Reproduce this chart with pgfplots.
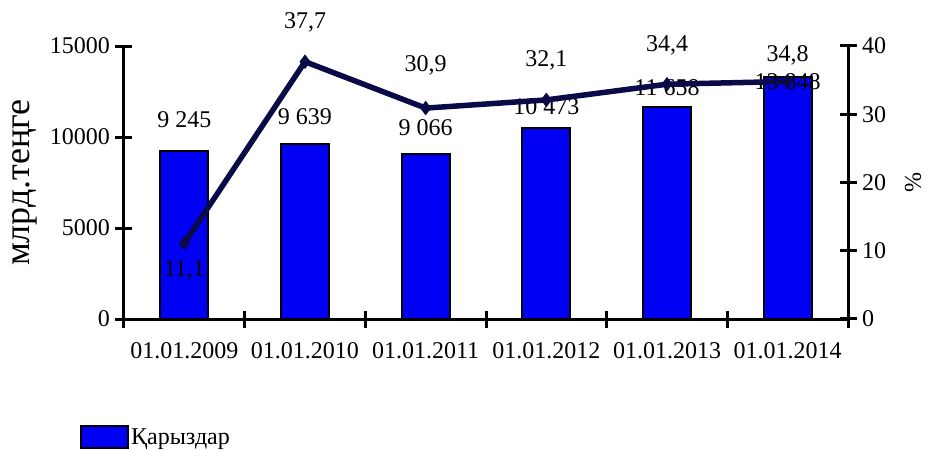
\documentclass[border=0pt]{standalone}
\usepackage{fontspec}
\setmainfont{Liberation Serif}
\usepackage{pgfplots}
\pgfplotsset{compat=1.18}
\definecolor{barblue}{RGB}{0,0,245}
\definecolor{linenavy}{RGB}{10,10,70}
\newcommand{\fs}{\fontsize{24}{28}\selectfont}
\begin{document}
\begin{tikzpicture}
\path (-124pt,-131pt) rectangle (803pt,319pt);
\begin{axis}[
  scale only axis, width=724pt, height=273pt,
  xmin=-0.5, xmax=5.5, ymin=0, ymax=15000,
  axis x line*=bottom, axis y line*=left,
  axis line style={line width=3pt, -},
  every tick/.style={line width=3pt, black},
  tick align=center, major tick length=17pt,
  xtick={-0.5,0.5,...,5.5},
  x tick label as interval=true,
  xticklabels={01.01.2009,01.01.2010,01.01.2011,01.01.2012,01.01.2013,01.01.2014},
  xticklabel style={yshift=-12pt},
  ytick={0,5000,10000,15000},
  scaled y ticks=false,
  yticklabel style={xshift=-2pt},
  /pgf/number format/1000 sep={},
  /pgf/number format/assume math mode=true,
  tick label style={font=\fs},
  ylabel={млрд.теңге},
  ylabel style={at={(axis description cs:-0.137,0.5)}, anchor=center, font=\fontsize{36}{42}\selectfont},
  clip=false,
  legend style={at={(-0.0608,-0.432)}, anchor=west, draw=none, font=\fs, inner sep=0pt},
  legend image code/.code={\draw[fill=barblue, draw=black, line width=2pt] (0pt,-11pt) rectangle (47pt,11pt);},
]
\addplot[ybar, bar width=48pt, fill=barblue, draw=black, line width=2pt] coordinates {(0,9245)(1,9639)(2,9066)(3,10473)(4,11658)(5,13300)};
\addlegendentry{Қарыздар}
\node[font=\fs] at (axis cs:0,10934) {9 245};
\node[font=\fs] at (axis cs:1,11099) {9 639};
\node[font=\fs] at (axis cs:2,10495) {9 066};
\node[font=\fs] at (axis cs:3,11648) {10 473};
\node[font=\fs] at (axis cs:4,12692) {11 658};
\node[font=\fs] at (axis cs:5,13022) {13 848};
\end{axis}
\begin{axis}[
  scale only axis, width=724pt, height=273pt,
  xmin=-0.5, xmax=5.5, ymin=0, ymax=40,
  axis x line=none, axis y line*=right,
  axis line style={line width=3pt, -},
  every tick/.style={line width=3pt, black},
  tick align=center, major tick length=17pt,
  ytick={0,10,20,30,40},
  yticklabel style={xshift=2pt},
  /pgf/number format/assume math mode=true,
  tick label style={font=\fs},
  ylabel={\%},
  ylabel style={at={(axis description cs:1.09,0.5)}, anchor=center, rotate=0, font=\fs},
  clip=false,
]
\addplot[linenavy, line width=5.5pt, mark=diamond*, mark size=6.5pt, mark options={fill=linenavy, draw=linenavy, line width=1pt}] coordinates {(0,11.1)(1,37.7)(2,30.9)(3,32.1)(4,34.4)(5,34.8)};
\node[font=\fs] at (axis cs:0,7.18) {11,1};
\node[font=\fs] at (axis cs:1,43.52) {37,7};
\node[font=\fs] at (axis cs:2,37.22) {30,9};
\node[font=\fs] at (axis cs:3,37.95) {32,1};
\node[font=\fs] at (axis cs:4,40.15) {34,4};
\node[font=\fs] at (axis cs:5,38.68) {34,8};
\end{axis}
\end{tikzpicture}
\end{document}
